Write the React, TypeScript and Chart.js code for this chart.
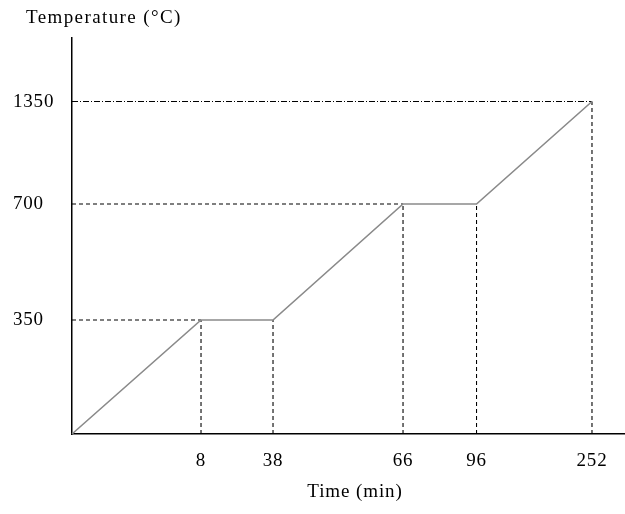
import React, { useEffect, useRef } from 'react';
import { Chart, registerables, LinearScale } from 'chart.js';

// ---- data ----
const timeMinutes = [0, 8, 38, 66, 96, 252];
const temperatures = [0, 350, 350, 700, 700, 1350];
const timeTickValues = [8, 38, 66, 96, 252];
const timeTickLabels = ['8', '38', '66', '96', '252'];
const tempTickValues = [350, 700, 1350];
const tempTickLabels = ['350', '700', '1350'];

// ---- schematic (non-proportional) axis layout: breakpoints and their fraction along the axis ----
const xAxisStops = [0, 8, 38, 66, 96, 252, 280];
const xAxisFractions = [0, 0.2333, 0.3635, 0.5986, 0.7315, 0.9403, 1];
const yAxisStops = [0, 350, 700, 1350, 1600];
const yAxisFractions = [0, 0.2879, 0.5808, 0.8396, 1];

const FONT_FAMILY = '"Liberation Serif", "Times New Roman", serif';

const axisLayouts: Record<string, { stops: number[]; fracs: number[]; ticks: number[]; labels: string[] }> = {
  x: { stops: xAxisStops, fracs: xAxisFractions, ticks: timeTickValues, labels: timeTickLabels },
  y: { stops: yAxisStops, fracs: yAxisFractions, ticks: tempTickValues, labels: tempTickLabels },
};

class SchematicScale extends (LinearScale as any) {
  static id = 'schematic';
  static defaults = {};
  determineDataLimits() {
    const l = axisLayouts[this.id];
    this.min = l.stops[0];
    this.max = l.stops[l.stops.length - 1];
  }
  buildTicks() {
    const l = axisLayouts[this.id];
    this.start = this.min;
    this.end = this.max;
    return l.ticks.map((v: number) => ({ value: v }));
  }
  getPixelForValue(value: number) {
    const { stops, fracs } = axisLayouts[this.id];
    let i = 0;
    while (i < stops.length - 2 && value > stops[i + 1]) i++;
    const t = (value - stops[i]) / (stops[i + 1] - stops[i]);
    return this.getPixelForDecimal(fracs[i] + t * (fracs[i + 1] - fracs[i]));
  }
  getValueForPixel(pixel: number) {
    const { stops, fracs } = axisLayouts[this.id];
    const d = this.getDecimalForPixel(pixel);
    let i = 0;
    while (i < fracs.length - 2 && d > fracs[i + 1]) i++;
    const t = (d - fracs[i]) / (fracs[i + 1] - fracs[i]);
    return stops[i] + t * (stops[i + 1] - stops[i]);
  }
}

Chart.register(...registerables, SchematicScale as any);

const textPlugin = {
  id: 'schematicTexts',
  beforeDraw(chart: any) {
    chart.ctx.letterSpacing = '0.8px';
  },
  afterDraw(chart: any) {
    const ctx = chart.ctx;
    ctx.save();
    ctx.font = `19px ${FONT_FAMILY}`;
    ctx.fillStyle = '#000';
    ctx.textBaseline = 'middle';
    ctx.textAlign = 'left';
    ctx.letterSpacing = '1.4px';
    ctx.fillText('Temperature (\u00B0C)', 26, 18);
    ctx.letterSpacing = '0.9px';
    ctx.textAlign = 'center';
    ctx.fillText('Time (min)', 355, 492);
    ctx.restore();
  },
};

export default function App() {
  const ref = useRef<HTMLCanvasElement | null>(null);

  useEffect(() => {
    document.body.style.margin = '0';
    const canvas = ref.current;
    if (!canvas) return;

    const mainPoints = timeMinutes.map((t, i) => ({ x: t, y: temperatures[i] }));

    const guideSets: any[] = [];
    // vertical guides from the time axis up to each break point
    timeMinutes.forEach((t, i) => {
      if (i === 0) return;
      guideSets.push({
        data: [{ x: t, y: 0 }, { x: t, y: temperatures[i] }],
        borderColor: '#000',
        borderWidth: 1.1,
        borderDash: [4, 3],
        pointRadius: 0,
        fill: false,
      });
    });
    // horizontal guides from the temperature axis to where each level is reached
    const lastLevel = temperatures[temperatures.length - 1];
    temperatures.forEach((T, i) => {
      if (i === 0 || T === temperatures[i - 1]) return;
      guideSets.push({
        data: [{ x: 0, y: T }, { x: timeMinutes[i], y: T }],
        borderColor: '#000',
        borderWidth: 1.1,
        borderDash: T === lastLevel ? [6, 2, 1, 2] : [4, 3],
        pointRadius: 0,
        fill: false,
      });
    });

    const chart = new Chart(canvas, {
      type: 'line',
      data: {
        datasets: [
          {
            data: mainPoints,
            borderColor: '#8a8a8a',
            borderWidth: 1.6,
            pointRadius: 0,
            fill: false,
            tension: 0,
          },
          ...guideSets,
        ],
      },
      options: {
        responsive: false,
        animation: false,
        events: [],
        layout: { padding: { left: 13, top: 38, right: 0, bottom: 0 } },
        plugins: { legend: { display: false }, tooltip: { enabled: false }, title: { display: false } },
        scales: {
          x: {
            type: 'schematic' as any,
            position: 'bottom',
            grid: { display: false, drawTicks: false },
            border: { display: true, color: '#000', width: 1.5 },
            afterFit: (s: any) => {
              s.height = 80;
            },
            ticks: {
              autoSkip: false,
              maxRotation: 0,
              padding: 16,
              color: '#000',
              font: { family: FONT_FAMILY, size: 19 },
              callback: (_v: any, i: number) => timeTickLabels[i],
            },
          } as any,
          y: {
            type: 'schematic' as any,
            position: 'left',
            grid: { display: false, drawTicks: false },
            border: { display: true, color: '#000', width: 1.5 },
            afterFit: (s: any) => {
              s.width = 59;
            },
            ticks: {
              crossAlign: 'far',
              padding: 0,
              color: '#000',
              font: { family: FONT_FAMILY, size: 19 },
              callback: (_v: any, i: number) => tempTickLabels[i],
            },
          } as any,
        },
      },
      plugins: [textPlugin],
    });

    return () => chart.destroy();
  }, []);

  return (
    <div style={{ width: 625, height: 514, position: 'relative', background: '#fff' }}>
      <canvas ref={ref} width={625} height={514} style={{ display: 'block' }} />
    </div>
  );
}
